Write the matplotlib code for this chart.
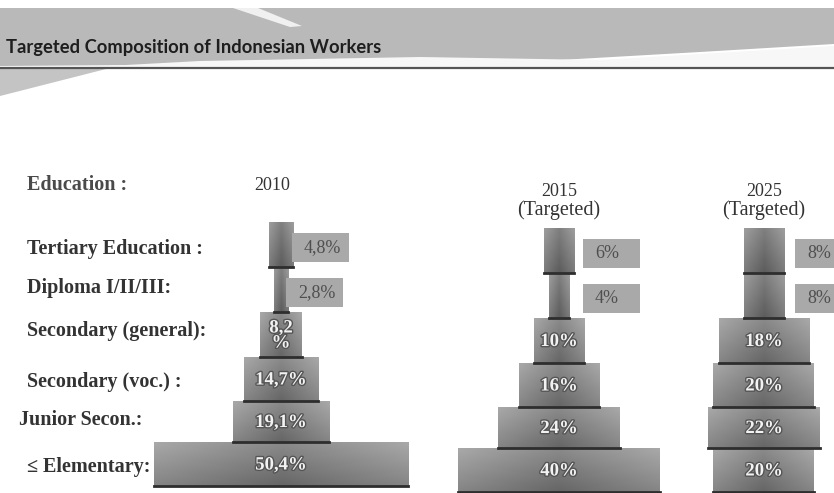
import numpy as np
import matplotlib.pyplot as plt
from matplotlib.patches import Polygon, Rectangle
import matplotlib.patheffects as pe

# Education levels, top to bottom
levels = ["Tertiary Education :", "Diploma I/II/III:", "Secondary (general):",
          "Secondary (voc.) :", "Junior Secon.:", "\u2264 Elementary:"]
years = ["2010", "2015", "2025"]
subtitles = ["", "(Targeted)", "(Targeted)"]

# share of workers (%)
share_2010 = [4.8, 2.8, 8.2, 14.7, 19.1, 50.4]
share_2015 = [6, 4, 10, 16, 24, 40]
share_2025 = [8, 8, 18, 20, 22, 20]

text_2010 = ["4,8%", "2,8%", "8,2\n%", "14,7%", "19,1%", "50,4%"]
text_2015 = ["6%", "4%", "10%", "16%", "24%", "40%"]
text_2025 = ["8%", "8%", "18%", "20%", "22%", "20%"]

shares = [share_2010, share_2015, share_2025]
texts = [text_2010, text_2015, text_2025]

# layout (pixels of the 834x493 slide)
W, H = 834, 493
px_per_pct = 5.05
centers = [281, 559, 764]
col_shift = [-6, 0, 0]
row_top = [228, 273, 318, 363, 407, 448]
row_h = [45, 45, 45, 44, 41, 44]
label_y = [249, 288, 331, 382, 420, 467]
box_left = [292, 583, 795]

serif = "Liberation Serif"

fig = plt.figure(figsize=(8.34, 4.93), dpi=100)
ax = fig.add_axes([0, 0, 1, 1])
ax.axis("off")


def shade(patch, dark=0.0):
    x0, y0 = patch.get_x(), patch.get_y()
    w, h = patch.get_width(), patch.get_height()
    yy, xx = np.mgrid[0:1:40j, -1:1:60j]
    val = 0.66 - 0.14 * yy - 0.12 * (1 - np.abs(xx)) - dark
    im = ax.imshow(val, cmap="gray", vmin=0, vmax=1, aspect="auto",
                   extent=(x0, x0 + w, y0 + h, y0), interpolation="bilinear", zorder=2)
    im.set_clip_path(patch)


# header banner
ax.add_patch(Polygon([(0, 8), (834, 8), (834, 44), (700, 52), (560, 60), (420, 63), (0, 66)],
                     closed=True, facecolor="#b9b9b9", edgecolor="none", zorder=0))
ax.add_patch(Polygon([(233, 8), (258, 8), (302, 26), (290, 27)],
                     closed=True, facecolor="#f0f0f0", edgecolor="none", zorder=0.5))
ax.add_patch(Polygon([(70, 68), (200, 61), (420, 57), (600, 60), (834, 46), (834, 68)],
                     closed=True, facecolor="#f7f7f7", edgecolor="none", zorder=0.5))
ax.add_patch(Polygon([(0, 68), (110, 68), (0, 96)],
                     closed=True, facecolor="#c4c4c4", edgecolor="none", zorder=0.5))
ax.plot([0, 834], [68, 68], color="#555555", lw=1.6, zorder=1)
ax.text(6, 48, "Targeted Composition of Indonesian Workers", fontsize=13.2,
        fontweight="bold", family="Lato", color="#1e1e1e", va="center", ha="left", zorder=3)

# headers
ax.text(27, 185, "Education :", fontsize=14.5, fontweight="bold", family=serif,
        color="#4a4a4a", va="center")
ax.text(centers[0] - 9, 185, years[0], fontsize=13, family=serif, color="#333333",
        va="center", ha="center")
for c, yr, sub in zip(centers[1:], years[1:], subtitles[1:]):
    ax.text(c, 192, yr, fontsize=13, family=serif, color="#333333",
            va="center", ha="center")
    ax.text(c, 210, sub, fontsize=14.5, family=serif, color="#333333",
            va="center", ha="center")

# row labels
for lab, y in zip(levels, label_y):
    x = 19 if lab.startswith("Junior") else 27
    ax.text(x, y, lab, fontsize=14.5, fontweight="bold", family=serif,
            color="#333333", va="center", ha="left")

stroke = [pe.withStroke(linewidth=2, foreground="#555555")]

for ci in range(3):
    vals = np.array(shares[ci])
    tops = np.array(row_top) + col_shift[ci]
    bars = ax.bar(centers[ci], row_h, width=vals * px_per_pct, bottom=tops,
                  color="#8c8c8c", edgecolor="none", zorder=1.5)
    for ri, patch in enumerate(bars):
        shade(patch, dark=0.04 if ri < 2 else 0.0)
        x0, y0 = patch.get_x(), patch.get_y()
        w, h = patch.get_width(), patch.get_height()
        ax.plot([x0, x0 + w], [y0 + h, y0 + h], color="#2e2e2e", lw=2, zorder=3)
        if ri < 2:
            bx = box_left[ci] - (6 if (ci == 0 and ri == 1) else 0)
            by = y0 + h / 2 + 2 - 14
            ax.add_patch(Rectangle((bx, by), 57, 29, facecolor="#a9a9a9",
                                   edgecolor="none", zorder=2))
            ax.text(bx + 12, by + 15, texts[ci][ri], fontsize=13, family=serif,
                    color="#4f4f4f", va="center", ha="left", zorder=3)
        else:
            ax.text(x0 + w / 2, y0 + h / 2 + 1, texts[ci][ri], fontsize=13.5,
                    fontweight="bold", family=serif, color="#f2f2f2",
                    va="center", ha="center", linespacing=0.85,
                    path_effects=stroke, zorder=4)

ax.set_xlim(0, W)
ax.set_ylim(H, 0)
fig.savefig("out.png", dpi=100, facecolor="white")
